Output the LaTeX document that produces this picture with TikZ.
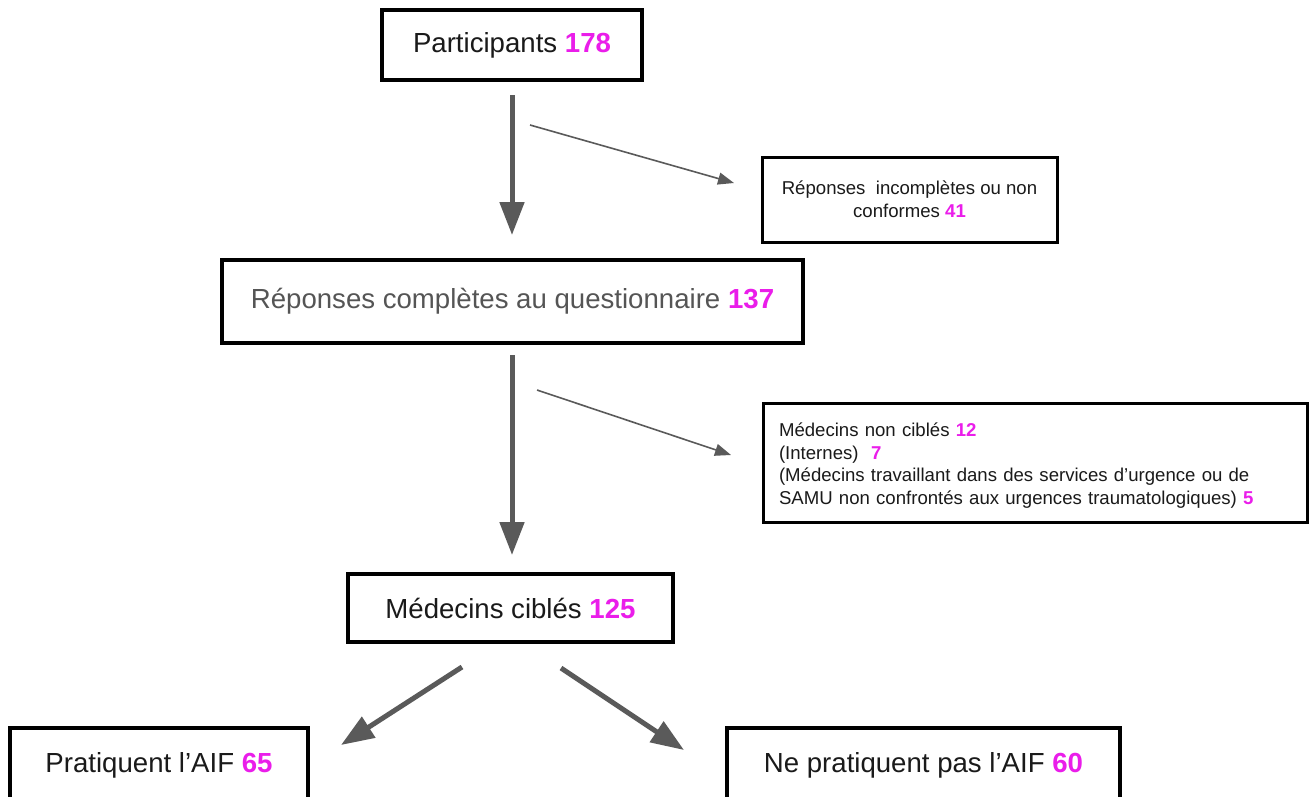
\documentclass[tikz,border=0pt]{standalone}
\usepackage{fontspec}
\setmainfont{Liberation Sans}
\usetikzlibrary{arrows.meta}
\definecolor{mag}{HTML}{EA1DEA}
\definecolor{arr}{HTML}{5A5A5A}
\definecolor{gtext}{HTML}{555555}
\definecolor{btext}{HTML}{1A1A1A}
\newcommand{\nbx}[1]{{\bfseries\color{mag}#1}}
\begin{document}
\begin{tikzpicture}[x=1pt,y=-1pt,
  mainbox/.style={draw=black, line width=4.5pt, rectangle, inner sep=0pt, text=btext,
    font=\fontsize{27.6}{32}\selectfont},
  lowbox/.style={draw=black, line width=3.5pt, rectangle, inner xsep=0pt, inner ysep=25pt, text=btext,
    font=\fontsize{27.6}{32}\selectfont, text height=20pt, text depth=60pt, anchor=north},
  sidebox/.style={draw=black, line width=3pt, rectangle, inner sep=0pt, text=btext,
    font=\fontsize{18.6}{22.7}\selectfont},
  bigarrow/.style={draw=arr, line width=5pt, -{Triangle[length=33pt,width=24pt]}},
  smallarrow/.style={draw=arr, line width=1.6pt, -{Triangle[length=16pt,width=12pt]}}
]
\clip (0,0) rectangle (1314,796);
\fill[white] (0,0) rectangle (1314,796);

% main column
\node[mainbox, minimum width=260pt, minimum height=70pt] (p) at (512,45) {Participants \nbx{178}};
\node[mainbox, minimum width=581pt, minimum height=83pt] (rc) at (512.5,301.5)
  {{\color{gtext}Réponses complètes au questionnaire} \nbx{137}};
\node[mainbox, minimum width=325pt, minimum height=68pt] (mc) at (510.5,608) {Médecins ciblés \nbx{125}};

% side boxes
\node[sidebox, minimum width=295pt, minimum height=85pt, align=center] (ri) at (909.5,199.5)
  {Réponses\ \ incomplètes ou non\\conformes \nbx{41}};
\node[sidebox, minimum height=119pt, text width=512pt, inner xsep=16pt, align=left] (mn) at (1035,462.5)
  {\rule{0pt}{20pt}Médecins non ciblés \nbx{12}\\
   (Internes)\ \ \nbx{7}\\
   (Médecins\ travaillant dans des services\ d’urgence ou de\\
   SAMU non confrontés\ aux urgences traumatologiques)\ \nbx{5}};

% bottom boxes
\node[lowbox, minimum width=298pt] (pa) at (159,726) {Pratiquent l’AIF \nbx{65}};
\node[lowbox, minimum width=393pt] (np) at (923.5,726) {Ne pratiquent pas l’AIF \nbx{60}};

% connector end points
\coordinate (a1s) at (512,95);   \coordinate (a1e) at (512,235);
\coordinate (a2s) at (512,355);  \coordinate (a2e) at (512,555);
\coordinate (s1s) at (530,125);  \coordinate (s1e) at (734,183);
\coordinate (s2s) at (537,390);  \coordinate (s2e) at (731,455);
\coordinate (d1s) at (462,667);  \coordinate (d1e) at (341,745);
\coordinate (d2s) at (561,668);  \coordinate (d2e) at (684,750);

\draw[bigarrow] (a1s) -- (a1e);
\draw[bigarrow] (a2s) -- (a2e);
\draw[smallarrow] (s1s) -- (s1e);
\draw[smallarrow] (s2s) -- (s2e);
\draw[bigarrow] (d1s) -- (d1e);
\draw[bigarrow] (d2s) -- (d2e);
\end{tikzpicture}
\end{document}
